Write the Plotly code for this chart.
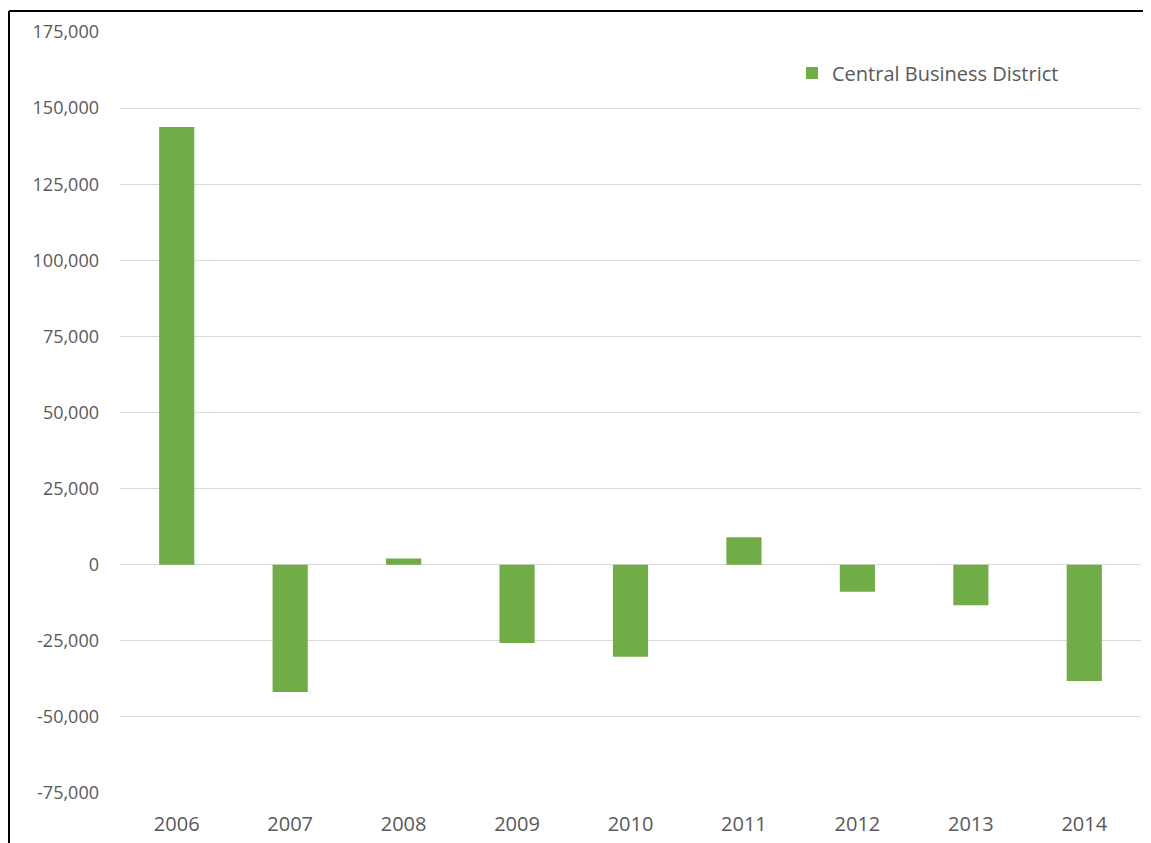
import plotly.graph_objects as go

years = ["2006", "2007", "2008", "2009", "2010", "2011", "2012", "2013", "2014"]
values = [143800, -41800, 2000, -25700, -30200, 9000, -8900, -13300, -38200]
series_name = "Central Business District"
y_ticks = [-75000, -50000, -25000, 0, 25000, 50000, 75000, 100000, 125000, 150000, 175000]
y_tick_text = ["-75,000", "-50,000", "-25,000", "0", "25,000", "50,000", "75,000",
               "100,000", "125,000", "150,000", "175,000"]

# page body has an 8px offset
W, H = 1143, 835
L, R, T, B = 112, 10, 24, 50
pw, ph = W - L - R, H - T - B

fig = go.Figure()
fig.add_trace(go.Bar(
    x=years, y=values, name=series_name,
    marker=dict(color="#70AD47", line=dict(width=0)),
    width=0.31, showlegend=True,
))

font = dict(family="Open Sans, Noto Sans, sans-serif", size=18, color="#595959")

x_left = (1 - L) / pw
y_top = 1 + (T - 3) / ph

fig.update_layout(
    width=W, height=H,
    margin=dict(l=L, r=R, t=T, b=B),
    paper_bgcolor="white", plot_bgcolor="white",
    font=font,
    showlegend=True,
    legend=dict(x=(784 - L) / pw, y=(H - B - 65) / ph, xanchor="left", yanchor="middle",
                font=dict(size=20, color="#595959"), bgcolor="rgba(0,0,0,0)",
                itemwidth=30),
    xaxis=dict(type="category", showgrid=False, showline=False, ticks="",
               ticklabelstandoff=17, tickfont=dict(size=20), automargin=False),
    yaxis=dict(range=[-75000, 175000], tickvals=y_ticks, ticktext=y_tick_text,
               showgrid=True, gridcolor="#d9d9d9", gridwidth=1,
               zeroline=True, zerolinecolor="#d9d9d9", zerolinewidth=1,
               showline=False, ticks="", ticklabelstandoff=20,
               tickfont=dict(size=18), automargin=False),
    shapes=[
        dict(type="line", xref="paper", yref="paper",
             x0=x_left, x1=(W - L) / pw, y0=y_top, y1=y_top,
             line=dict(color="black", width=2), layer="above"),
        dict(type="line", xref="paper", yref="paper",
             x0=x_left, x1=x_left, y0=-B / ph, y1=y_top,
             line=dict(color="black", width=2), layer="above"),
    ],
)

fig.write_html("out.html")
